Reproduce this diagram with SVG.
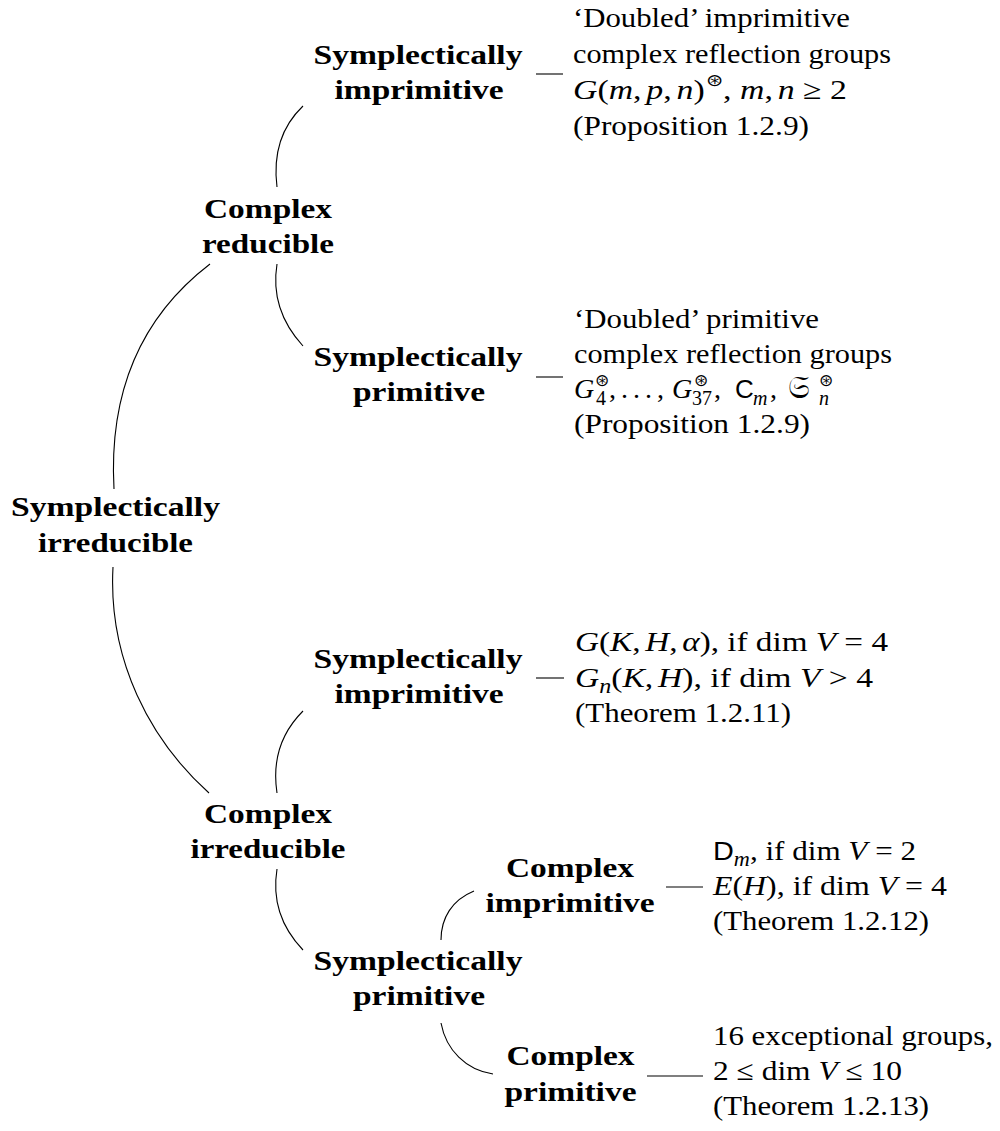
<svg xmlns="http://www.w3.org/2000/svg" width="1000" height="1131" viewBox="0 0 1000 1131">
<style>
.b{font-family:"Liberation Serif",serif;font-weight:bold;font-size:28px;text-anchor:middle;fill:#000}
.t{font-family:"Liberation Serif",serif;font-size:28px;fill:#000}
.i{font-style:italic}
.s{font-family:"Liberation Sans",sans-serif;font-size:26px}
.sc{font-size:20px}
.ast{font-family:"DejaVu Sans",sans-serif;font-size:17px}
.fr{font-family:"DejaVu Sans","Noto Sans",serif;font-size:31px}
.e{fill:none;stroke:#000;stroke-width:1.1}
</style>
<rect width="1000" height="1131" fill="#fff"/>
<g id="connectors">
<path class="e" d="M277,187 C273,155 280,128 303,106"/>
<path class="e" d="M277,264 C272,295 282,323 303,346"/>
<path class="e" d="M210,264 C150,310 108,380 114,489"/>
<path class="e" d="M113,567 C108,660 150,740 209,793"/>
<path class="e" d="M277,793 C272,760 281,733 303,711"/>
<path class="e" d="M277,869 C272,900 282,928 303,950"/>
<path class="e" d="M441,940 C441,918 452,900 474,891"/>
<path class="e" d="M441,1023 C446,1050 466,1070 493,1074"/>
<path class="e" d="M536,74 H563"/>
<path class="e" d="M536,377 H563"/>
<path class="e" d="M536,678 H564"/>
<path class="e" d="M666,887 H703"/>
<path class="e" d="M647,1076 H703"/>
</g>
<g id="n-symp-irreducible">
<text class="b" x="115.5" y="516" textLength="209" lengthAdjust="spacingAndGlyphs">Symplectically</text>
<text class="b" x="115.5" y="552" textLength="155" lengthAdjust="spacingAndGlyphs">irreducible</text>
</g>
<g id="n-complex-reducible">
<text class="b" x="268" y="218" textLength="128" lengthAdjust="spacingAndGlyphs">Complex</text>
<text class="b" x="268" y="253" textLength="132" lengthAdjust="spacingAndGlyphs">reducible</text>
</g>
<g id="n-symp-imprimitive-1">
<text class="b" x="418" y="64" textLength="209" lengthAdjust="spacingAndGlyphs">Symplectically</text>
<text class="b" x="419" y="99" textLength="169" lengthAdjust="spacingAndGlyphs">imprimitive</text>
</g>
<g id="n-symp-primitive-1">
<text class="b" x="418" y="366" textLength="209" lengthAdjust="spacingAndGlyphs">Symplectically</text>
<text class="b" x="419" y="401" textLength="132" lengthAdjust="spacingAndGlyphs">primitive</text>
</g>
<g id="n-complex-irreducible">
<text class="b" x="268" y="823" textLength="128" lengthAdjust="spacingAndGlyphs">Complex</text>
<text class="b" x="268" y="858" textLength="155" lengthAdjust="spacingAndGlyphs">irreducible</text>
</g>
<g id="n-symp-imprimitive-2">
<text class="b" x="418" y="668" textLength="209" lengthAdjust="spacingAndGlyphs">Symplectically</text>
<text class="b" x="419" y="703" textLength="169" lengthAdjust="spacingAndGlyphs">imprimitive</text>
</g>
<g id="n-symp-primitive-2">
<text class="b" x="418" y="970" textLength="209" lengthAdjust="spacingAndGlyphs">Symplectically</text>
<text class="b" x="419" y="1005" textLength="132" lengthAdjust="spacingAndGlyphs">primitive</text>
</g>
<g id="n-complex-imprimitive">
<text class="b" x="570" y="877" textLength="128" lengthAdjust="spacingAndGlyphs">Complex</text>
<text class="b" x="570" y="912" textLength="169" lengthAdjust="spacingAndGlyphs">imprimitive</text>
</g>
<g id="n-complex-primitive">
<text class="b" x="570.5" y="1065" textLength="128" lengthAdjust="spacingAndGlyphs">Complex</text>
<text class="b" x="570.5" y="1101" textLength="132" lengthAdjust="spacingAndGlyphs">primitive</text>
</g>
<g id="leaf-doubled-imprimitive">
<text class="t" x="573" y="27" textLength="277" lengthAdjust="spacingAndGlyphs">‘Doubled’ imprimitive</text>
<text class="t" x="573" y="63" textLength="318" lengthAdjust="spacingAndGlyphs">complex reflection groups</text>
<text class="t" x="573" y="99" textLength="274" lengthAdjust="spacingAndGlyphs"><tspan class="i">G</tspan>(<tspan class="i">m</tspan>,<tspan class="i" dx="4">p</tspan>,<tspan class="i" dx="4">n</tspan>)<tspan class="ast" dx="1" dy="-13">⊛</tspan><tspan dy="13">, </tspan><tspan class="i">m</tspan>,<tspan class="i" dx="4">n</tspan> ≥ 2</text>
<text class="t" x="573" y="135" textLength="236" lengthAdjust="spacingAndGlyphs">(Proposition 1.2.9)</text>
</g>
<g id="leaf-doubled-primitive">
<text class="t" x="574" y="328" textLength="245" lengthAdjust="spacingAndGlyphs">‘Doubled’ primitive</text>
<text class="t" x="574" y="363" textLength="318" lengthAdjust="spacingAndGlyphs">complex reflection groups</text>
<text class="t" y="398"><tspan class="i" x="574">G</tspan><tspan class="ast" x="595" y="386">⊛</tspan><tspan class="sc" x="596" y="405">4</tspan><tspan x="609" y="398">,</tspan><tspan x="621">.</tspan><tspan x="633">.</tspan><tspan x="645">.</tspan><tspan x="657">,</tspan><tspan class="i" x="672">G</tspan><tspan class="ast" x="694" y="386">⊛</tspan><tspan class="sc" x="692" y="405">37</tspan><tspan x="714" y="398">,</tspan><tspan class="s" x="735">C</tspan><tspan class="i sc" x="753" y="405">m</tspan><tspan x="770" y="398">,</tspan><tspan class="fr" x="788">𝔖</tspan><tspan class="ast" x="819" y="386">⊛</tspan><tspan class="i sc" x="819" y="405">n</tspan></text>
<text class="t" x="574" y="433" textLength="236" lengthAdjust="spacingAndGlyphs">(Proposition 1.2.9)</text>
</g>
<g id="leaf-gkh">
<text class="t" x="575" y="651" textLength="313" lengthAdjust="spacingAndGlyphs"><tspan class="i">G</tspan>(<tspan class="i">K</tspan>,<tspan class="i" dx="4">H</tspan>,<tspan class="i" dx="4">α</tspan>), if dim <tspan class="i">V</tspan> = 4</text>
<text class="t" x="575" y="687" textLength="298" lengthAdjust="spacingAndGlyphs"><tspan class="i">G</tspan><tspan class="i sc" dy="6">n</tspan><tspan dy="-6">(</tspan><tspan class="i">K</tspan>,<tspan class="i" dx="4">H</tspan>), if dim <tspan class="i">V</tspan> &gt; 4</text>
<text class="t" x="575" y="722" textLength="216" lengthAdjust="spacingAndGlyphs">(Theorem 1.2.11)</text>
</g>
<g id="leaf-dm-eh">
<text class="t" x="713" y="860" textLength="203" lengthAdjust="spacingAndGlyphs"><tspan class="s">D</tspan><tspan class="i sc" dy="6">m</tspan><tspan dy="-6">, if dim </tspan><tspan class="i">V</tspan> = 2</text>
<text class="t" x="713" y="895" textLength="234" lengthAdjust="spacingAndGlyphs"><tspan class="i">E</tspan>(<tspan class="i">H</tspan>), if dim <tspan class="i">V</tspan> = 4</text>
<text class="t" x="713" y="930" textLength="216" lengthAdjust="spacingAndGlyphs">(Theorem 1.2.12)</text>
</g>
<g id="leaf-exceptional">
<text class="t" x="713" y="1045" textLength="280" lengthAdjust="spacingAndGlyphs">16 exceptional groups,</text>
<text class="t" x="713" y="1080" textLength="189" lengthAdjust="spacingAndGlyphs">2 ≤ dim <tspan class="i">V</tspan> ≤ 10</text>
<text class="t" x="713" y="1115" textLength="216" lengthAdjust="spacingAndGlyphs">(Theorem 1.2.13)</text>
</g>
</svg>
